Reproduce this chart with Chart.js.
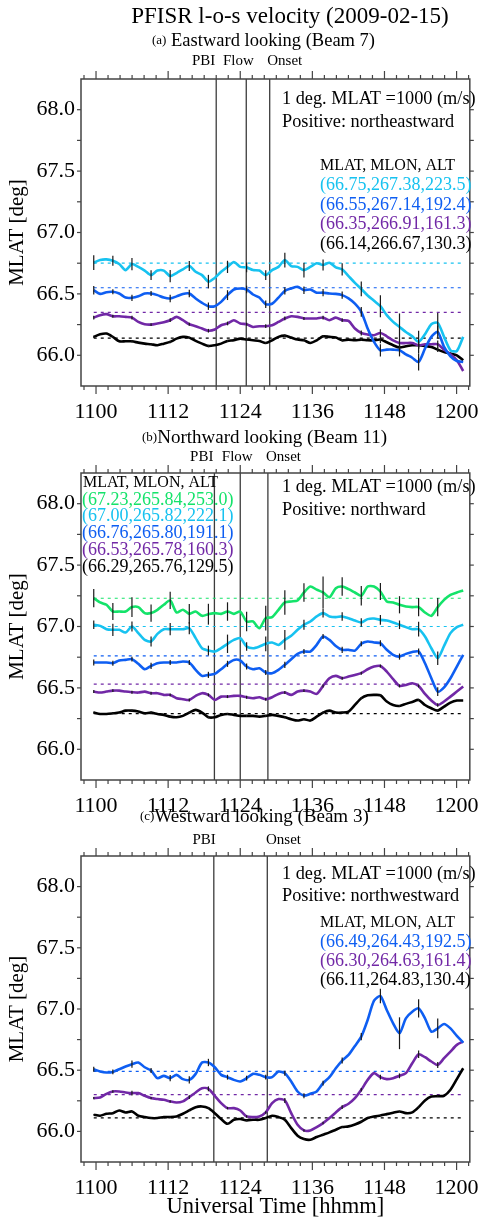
<!DOCTYPE html>
<html>
<head>
<meta charset="utf-8">
<title>PFISR l-o-s velocity (2009-02-15)</title>
<script src="https://cdn.jsdelivr.net/npm/chart.js@4.4.1/dist/chart.umd.min.js"></script>
<style>
  html, body { margin: 0; padding: 0; background: #fff; }
  #page { position: relative; width: 492px; height: 1222px; overflow: hidden; background: #fff; }
  #page canvas { position: absolute; left: 0; top: 0; }
</style>
</head>
<body>
<div id="page">
  <!-- one full-page layer per beam, stacked -->
  <canvas id="beam7" width="492" height="1222"></canvas>
  <canvas id="beam11" width="492" height="1222"></canvas>
  <canvas id="beam3" width="492" height="1222"></canvas>
</div>
<script>
// minutes after 11:00 UT for each integration
const timeMin = [-0.38, 0.68, 1.74, 2.80, 3.86, 4.92, 5.98, 7.04, 8.10, 9.16,
  10.22, 11.28, 12.34, 13.40, 14.46, 15.52, 16.58, 17.64, 18.70, 19.76,
  20.82, 21.88, 22.94, 24.00, 25.06, 26.12, 27.18, 28.24, 29.30, 30.36,
  31.42, 32.48, 33.54, 34.60, 35.66, 36.72, 37.78, 38.84, 39.90, 40.96,
  42.02, 43.08, 44.14, 45.20, 46.26, 47.32, 48.38, 49.44, 50.50, 51.56,
  52.62, 53.68, 54.74, 55.80, 56.86, 57.92, 58.98, 60.04, 61.10];

const xTickValues = [0, 12, 24, 36, 48, 60];
const xTickLabels = ['1100', '1112', '1124', '1136', '1148', '1200'];
const yTickValues = [66.0, 66.5, 67.0, 67.5, 68.0];

// (a) Beam 7, eastward looking
const beam7Mlat = [66.75, 66.55, 66.35, 66.14];
const beam7Gates = ['(66.75,267.38,223.5)', '(66.55,267.14,192.4)', '(66.35,266.91,161.3)', '(66.14,266.67,130.3)'];
const beam7Gate1 = [66.754, 66.776, 66.781, 66.77, 66.743, 66.694, 66.743, 66.72, 66.69, 66.653,
  66.69, 66.69, 66.645, 66.67, 66.70, 66.727, 66.68, 66.653, 66.6, 66.63,
  66.68, 66.72, 66.76, 66.72, 66.716, 66.694, 66.69, 66.653, 66.694, 66.72,
  66.776, 66.727, 66.72, 66.694, 66.72, 66.75, 66.735, 66.754, 66.716, 66.70,
  66.645, 66.59, 66.54, 66.487, 66.444, 66.40, 66.327, 66.272, 66.231, 66.19,
  66.155, 66.109, 66.171, 66.253, 66.264, 66.15, 66.041, 66.035, 66.15];
const beam7Gate2 = [66.53, 66.50, 66.514, 66.517, 66.503, 66.47, 66.468, 66.48, 66.503, 66.503,
  66.49, 66.47, 66.463, 66.48, 66.50, 66.503, 66.463, 66.427, 66.40, 66.40,
  66.435, 66.49, 66.536, 66.544, 66.536, 66.495, 66.47, 66.416, 66.42, 66.47,
  66.525, 66.544, 66.558, 66.53, 66.536, 66.51, 66.51, 66.503, 66.50, 66.49,
  66.463, 66.42, 66.354, 66.218, 66.109, 66.041, 66.046, 66.046, 66.041, 66.008,
  65.98, 65.946, 66.054, 66.15, 66.19, 66.068, 65.992, 65.954, 65.946];
const beam7Gate3 = [66.307, 66.327, 66.335, 66.318, 66.318, 66.313, 66.307, 66.272, 66.253, 66.25,
  66.259, 66.27, 66.286, 66.313, 66.286, 66.253, 66.237, 66.218, 66.2, 66.21,
  66.245, 66.259, 66.286, 66.259, 66.253, 66.231, 66.237, 66.237, 66.245, 66.272,
  66.30, 66.318, 66.313, 66.30, 66.30, 66.30, 66.307, 66.286, 66.307, 66.286,
  66.28, 66.218, 66.182, 66.169, 66.163, 66.182, 66.155, 66.122, 66.10, 66.10,
  66.10, 66.082, 66.09, 66.09, 66.09, 66.046, 66.008, 65.96, 65.872];
const beam7Gate4 = [66.15, 66.171, 66.177, 66.15, 66.114, 66.114, 66.114, 66.103, 66.095, 66.09,
  66.082, 66.095, 66.109, 66.136, 66.15, 66.144, 66.117, 66.095, 66.076, 66.082,
  66.095, 66.117, 66.122, 66.136, 66.128, 66.122, 66.117, 66.10, 66.122, 66.15,
  66.16, 66.144, 66.128, 66.122, 66.10, 66.122, 66.155, 66.15, 66.144, 66.122,
  66.128, 66.122, 66.128, 66.122, 66.122, 66.128, 66.106, 66.082, 66.063, 66.073,
  66.082, 66.082, 66.076, 66.068, 66.046, 66.027, 66.014, 66.0, 65.959];
// error half-widths, one for every third integration
const beam7Err1 = [0.06, 0.04, 0.05, 0.04, 0.05, 0.04, 0.055, 0.05, 0.04, 0.04, 0.06, 0.06, 0.045, 0.05, 0.06, 0.09, 0.11, 0.09, 0.08];
const beam7Err2 = [0.035, 0.02, 0.025, 0.02, 0.03, 0.03, 0.03, 0.04, 0.03, 0.03, 0.03, 0.03, 0.03, 0.03, 0.04, 0.05, 0.05, 0.07, 0.05];
const beam7Err3 = [0.015, 0.012, 0.015, 0.012, 0.015, 0.012, 0.015, 0.015, 0.012, 0.015, 0.015, 0.012, 0.015, 0.015, 0.02, 0.03, 0.03, 0.03, 0.03];
const beam7Err4 = [0.01, 0.008, 0.01, 0.008, 0.01, 0.008, 0.01, 0.008, 0.01, 0.008, 0.01, 0.008, 0.01, 0.01, 0.01, 0.03, 0.02, 0.02, 0.02];
const beam7Events = [20.0, 25.0, 28.9];

// (b) Beam 11, northward looking
const beam11Mlat = [67.23, 67.00, 66.76, 66.53, 66.29];
const beam11Gates = ['(67.23,265.84,253.0)', '(67.00,265.82,222.1)', '(66.76,265.80,191.1)', '(66.53,265.78,160.3)', '(66.29,265.76,129.5)'];
const beam11Gate1 = [67.231, 67.196, 67.177, 67.122, 67.122, 67.122, 67.158, 67.158, 67.109, 67.109,
  67.136, 67.177, 67.212, 67.114, 67.136, 67.103, 67.122, 67.087, 67.10, 67.109,
  67.103, 67.122, 67.103, 67.122, 67.041, 67.041, 66.986, 67.068, 67.076, 67.136,
  67.196, 67.204, 67.212, 67.277, 67.326, 67.30, 67.277, 67.239, 67.312, 67.326,
  67.304, 67.277, 67.25, 67.326, 67.326, 67.285, 67.204, 67.196, 67.177, 67.163,
  67.158, 67.158, 67.114, 67.087, 67.158, 67.217, 67.258, 67.277, 67.293];
const beam11Gate2 = [67.014, 67.005, 66.978, 66.973, 66.973, 66.951, 67.0, 66.946, 66.891, 66.878,
  66.94, 66.978, 66.978, 66.978, 66.978, 66.986, 66.905, 66.823, 66.804, 66.796,
  66.823, 66.859, 66.891, 66.905, 66.837, 66.823, 66.837, 66.859, 66.87, 66.85,
  66.891, 66.924, 66.973, 67.014, 67.041, 67.082, 67.109, 67.082, 67.076, 67.082,
  67.068, 67.049, 67.033, 67.06, 67.065, 67.054, 67.049, 67.033, 67.014, 66.995,
  66.978, 66.978, 66.918, 66.823, 66.742, 66.842, 66.946, 66.995, 67.014];
const beam11Gate3 = [66.707, 66.707, 66.707, 66.701, 66.723, 66.728, 66.734, 66.696, 66.652, 66.679,
  66.701, 66.707, 66.707, 66.707, 66.715, 66.707, 66.647, 66.598, 66.606, 66.614,
  66.652, 66.696, 66.728, 66.723, 66.674, 66.652, 66.66, 66.625, 66.62, 66.647,
  66.688, 66.734, 66.777, 66.796, 66.796, 66.851, 66.918, 66.891, 66.842, 66.81,
  66.81, 66.804, 66.859, 66.878, 66.87, 66.864, 66.81, 66.769, 66.755, 66.777,
  66.793, 66.796, 66.701, 66.579, 66.47, 66.505, 66.579, 66.674, 66.769];
const beam11Gate4 = [66.47, 66.462, 66.47, 66.478, 66.478, 66.47, 66.465, 66.462, 66.47, 66.457,
  66.457, 66.443, 66.443, 66.416, 66.408, 66.402, 66.435, 66.457, 66.443, 66.402,
  66.429, 66.429, 66.435, 66.435, 66.424, 66.416, 66.424, 66.408, 66.424, 66.451,
  66.462, 66.443, 66.47, 66.478, 66.47, 66.451, 66.516, 66.579, 66.598, 66.579,
  66.592, 66.606, 66.62, 66.652, 66.674, 66.679, 66.633, 66.571, 66.516, 66.524,
  66.538, 66.516, 66.451, 66.397, 66.361, 66.389, 66.429, 66.47, 66.511];
const beam11Gate5 = [66.299, 66.288, 66.288, 66.293, 66.299, 66.315, 66.315, 66.307, 66.293, 66.299,
  66.288, 66.28, 66.266, 66.261, 66.272, 66.299, 66.321, 66.299, 66.261, 66.261,
  66.28, 66.288, 66.28, 66.272, 66.272, 66.272, 66.266, 66.272, 66.28, 66.272,
  66.261, 66.245, 66.234, 66.245, 66.234, 66.266, 66.299, 66.315, 66.299, 66.299,
  66.307, 66.361, 66.416, 66.44, 66.443, 66.44, 66.389, 66.361, 66.353, 66.37,
  66.386, 66.402, 66.361, 66.334, 66.315, 66.348, 66.38, 66.397, 66.397];
const beam11Err1 = [0.075, 0.07, 0.08, 0.07, 0.07, 0.08, 0.085, 0.075, 0.08, 0.1, 0.1, 0.075, 0.13, 0.075, 0.08, 0.07, 0.07, 0.075, 0.075];
const beam11Err2 = [0.035, 0.05, 0.04, 0.04, 0.05, 0.05, 0.04, 0.075, 0.035, 0.06, 0.08, 0.04, 0.035, 0.035, 0.035, 0.04, 0.035, 0.06, 0.055];
const beam11Err3 = [0.025, 0.02, 0.02, 0.025, 0.02, 0.02, 0.025, 0.025, 0.025, 0.02, 0.025, 0.02, 0.02, 0.025, 0.02, 0.025, 0.025, 0.025, 0.035];
const beam11Err4 = [0.012, 0.012, 0.012, 0.012, 0.012, 0.012, 0.012, 0.012, 0.012, 0.012, 0.012, 0.012, 0.012, 0.012, 0.012, 0.012, 0.012, 0.012, 0.015];
const beam11Err5 = [0.008, 0.008, 0.008, 0.008, 0.008, 0.008, 0.008, 0.008, 0.008, 0.008, 0.008, 0.008, 0.008, 0.008, 0.008, 0.008, 0.008, 0.008, 0.01];
const beam11Events = [19.7, 24.0, 28.6];

// (c) Beam 3, westward looking
const beam3Mlat = [66.49, 66.30, 66.11];
const beam3Gates = ['(66.49,264.43,192.5)', '(66.30,264.63,161.4)', '(66.11,264.83,130.4)'];
const beam3Gate1 = [66.508, 66.489, 66.481, 66.486, 66.508, 66.53, 66.549, 66.563, 66.524, 66.497,
  66.435, 66.454, 66.435, 66.462, 66.427, 66.421, 66.47, 66.563, 66.563, 66.524,
  66.462, 66.443, 66.421, 66.408, 66.435, 66.47, 66.462, 66.443, 66.443, 66.489,
  66.475, 66.408, 66.326, 66.291, 66.307, 66.326, 66.394, 66.443, 66.516, 66.579,
  66.625, 66.698, 66.774, 66.91, 67.068, 67.106, 66.992, 66.883, 66.802, 66.924,
  66.978, 67.005, 66.924, 66.815, 66.842, 66.878, 66.842, 66.78, 66.726];
const beam3Gate2 = [66.272, 66.277, 66.307, 66.326, 66.326, 66.318, 66.313, 66.313, 66.291, 66.272,
  66.264, 66.258, 66.245, 66.236, 66.245, 66.28, 66.318, 66.353, 66.348, 66.291,
  66.231, 66.19, 66.19, 66.171, 66.122, 66.117, 66.122, 66.155, 66.231, 66.264,
  66.253, 66.149, 66.054, 66.008, 66.008, 66.035, 66.068, 66.109, 66.155, 66.198,
  66.226, 66.272, 66.34, 66.421, 66.476, 66.443, 66.427, 66.435, 66.454, 66.476,
  66.557, 66.63, 66.606, 66.571, 66.543, 66.598, 66.652, 66.707, 66.734];
const beam3Gate3 = [66.136, 66.128, 66.144, 66.149, 66.171, 66.155, 66.163, 66.128, 66.117, 66.109,
  66.109, 66.117, 66.117, 66.122, 66.144, 66.171, 66.198, 66.204, 66.19, 66.149,
  66.101, 66.062, 66.095, 66.101, 66.09, 66.095, 66.095, 66.109, 66.128, 66.117,
  66.095, 66.027, 65.965, 65.938, 65.932, 65.954, 65.973, 65.992, 66.014, 66.035,
  66.041, 66.057, 66.079, 66.109, 66.122, 66.13, 66.141, 66.152, 66.163, 66.149,
  66.155, 66.198, 66.253, 66.285, 66.288, 66.291, 66.34, 66.427, 66.516];
const beam3Err1 = [0.02, 0.02, 0.03, 0.02, 0.025, 0.03, 0.03, 0.02, 0.02, 0.02, 0.02, 0.02, 0.02, 0.025, 0.03, 0.06, 0.13, 0.075, 0.08];
const beam3Err2 = [0.01, 0.01, 0.02, 0.01, 0.01, 0.015, 0.02, 0.01, 0.01, 0.01, 0.02, 0.01, 0.01, 0.015, 0.015, 0.02, 0.02, 0.03, 0.025];
const beam3Err3 = [0.005, 0.005, 0.005, 0.005, 0.005, 0.005, 0.005, 0.005, 0.005, 0.005, 0.005, 0.005, 0.005, 0.005, 0.005, 0.005, 0.005, 0.005, 0.005];
const beam3Events = [19.6, 28.5];

const serif = "'Liberation Serif', 'Times New Roman', serif";
const ERR_STEP = 3;
const cyan = '#17c2f0', blue = '#0e5ef2', purple = '#7128a6', green = '#14e36a', black = '#000000';

function drawLine(ctx, x1, y1, x2, y2) {
  ctx.beginPath();
  ctx.moveTo(x1, y1);
  ctx.lineTo(x2, y2);
  ctx.stroke();
}

function drawText(ctx, t) {
  let x = t.x;
  const parts = t.parts || [[t.text, t.size]];
  ctx.fillStyle = t.color || '#000';
  ctx.textBaseline = 'middle';
  if (t.align === 'center') {
    let w = 0;
    parts.forEach(([s, size]) => { ctx.font = size + 'px ' + serif; w += ctx.measureText(s).width; });
    x -= w / 2;
  }
  ctx.textAlign = 'left';
  parts.forEach(([s, size]) => {
    ctx.font = size + 'px ' + serif;
    ctx.fillText(s, x, t.y);
    x += ctx.measureText(s).width;
  });
}

// frame, outward ticks, event lines, error bars and labels
function decoPlugin(p) {
  return {
    id: 'deco',
    beforeDatasetsDraw(chart) {
      const { ctx, chartArea: a, scales: { x } } = chart;
      ctx.save();
      ctx.strokeStyle = '#3c3c3c';
      ctx.lineWidth = 1.3;
      p.events.forEach(ev => {
        const px = x.getPixelForValue(ev.t);
        drawLine(ctx, px, a.top, px, a.bottom);
      });
      ctx.restore();
    },
    afterDatasetsDraw(chart) {
      const { ctx, scales: { x, y } } = chart;
      ctx.save();
      ctx.strokeStyle = '#1a1a1a';
      ctx.lineWidth = 1.2;
      p.series.forEach(s => {
        s.err.forEach((e, k) => {
          const i = k * ERR_STEP;
          const px = x.getPixelForValue(timeMin[i]);
          drawLine(ctx, px, y.getPixelForValue(s.values[i] - e), px, y.getPixelForValue(s.values[i] + e));
        });
      });
      ctx.restore();
    },
    afterDraw(chart) {
      const { ctx, chartArea: a, scales: { x, y } } = chart;
      ctx.save();
      ctx.strokeStyle = '#444';
      ctx.lineWidth = 1.5;
      ctx.strokeRect(a.left, a.top, a.right - a.left, a.bottom - a.top);
      ctx.lineWidth = 1.2;
      for (let t = -2; t <= 62; t += 2) {
        const px = x.getPixelForValue(t);
        const len = t % 12 === 0 ? 8 : 4;
        drawLine(ctx, px, a.top, px, a.top - len);
        drawLine(ctx, px, a.bottom, px, a.bottom + len);
      }
      for (let v = 66; v <= 68.001; v += 0.25) {
        const py = y.getPixelForValue(v);
        drawLine(ctx, a.left, py, a.left - 4, py);
        drawLine(ctx, a.right, py, a.right + 4, py);
      }
      p.events.forEach(ev => {
        drawText(ctx, { text: ev.name, size: 15, x: x.getPixelForValue(ev.labelT), y: p.eventY, align: 'center' });
      });
      p.texts.forEach(t => drawText(ctx, t));
      ctx.restore();
    }
  };
}

function buildPanel(id, p) {
  const canvas = document.getElementById(id);
  const datasets = [];
  p.series.forEach(s => {
    datasets.push({
      data: timeMin.map((t, i) => ({ x: t, y: s.values[i] })),
      borderColor: s.color, borderWidth: 2.6, pointRadius: 0, tension: 0.25, order: 1
    });
    datasets.push({
      data: [{ x: timeMin[0], y: s.mlat }, { x: timeMin[timeMin.length - 1], y: s.mlat }],
      borderColor: s.color, borderWidth: 1.2, borderDash: [3, 4], pointRadius: 0, order: 2
    });
  });
  return new Chart(canvas, {
    type: 'line',
    data: { datasets },
    options: {
      responsive: false,
      animation: false,
      devicePixelRatio: 1,
      layout: { padding: { top: p.areaTop, right: 12, left: 0, bottom: 0 } },
      plugins: { legend: { display: false }, tooltip: { enabled: false } },
      scales: {
        x: {
          type: 'linear', min: -2.5, max: 62.2,
          grid: { display: false, drawTicks: false },
          border: { display: false },
          afterBuildTicks: s => { s.ticks = xTickValues.map(v => ({ value: v })); },
          afterFit: s => { s.height = canvas.height - p.areaBottom; },
          ticks: {
            autoSkip: false, maxRotation: 0, padding: 13, color: '#000',
            font: { family: serif, size: 22 },
            callback: v => xTickLabels[xTickValues.indexOf(v)]
          },
          title: {
            display: !!p.xTitle, text: p.xTitle || '', color: '#000',
            font: { family: serif, size: 22.5 }, padding: { top: 0, bottom: 1 }
          }
        },
        y: {
          min: 65.75, max: 68.25,
          grid: { display: false, drawTicks: false },
          border: { display: false },
          afterBuildTicks: s => { s.ticks = yTickValues.map(v => ({ value: v })); },
          afterFit: s => { s.width = 81; },
          ticks: {
            padding: 6, color: '#000', font: { family: serif, size: 22 },
            callback: v => v.toFixed(1)
          },
          title: {
            display: true, text: 'MLAT [deg]', color: '#000',
            font: { family: serif, size: 21 }, padding: { top: 5 }
          }
        }
      }
    },
    plugins: [decoPlugin(p)]
  });
}

function gateLines(labels, colors, x, y0, dy) {
  return labels.map((text, i) => ({ text, size: 18, color: colors[i], x, y: y0 + dy * (i + 1) }));
}

buildPanel('beam7', {
  areaTop: 79, areaBottom: 386,
  series: [
    { values: beam7Gate1, err: beam7Err1, mlat: beam7Mlat[0], color: cyan },
    { values: beam7Gate2, err: beam7Err2, mlat: beam7Mlat[1], color: blue },
    { values: beam7Gate3, err: beam7Err3, mlat: beam7Mlat[2], color: purple },
    { values: beam7Gate4, err: beam7Err4, mlat: beam7Mlat[3], color: black }
  ],
  events: [
    { t: beam7Events[0], name: 'PBI', labelT: 17.9 },
    { t: beam7Events[1], name: 'Flow', labelT: 23.7 },
    { t: beam7Events[2], name: 'Onset', labelT: 31.4 }
  ],
  eventY: 61,
  texts: [
    { text: 'PFISR l-o-s velocity (2009-02-15)', size: 23, x: 290, y: 17, align: 'center' },
    { parts: [['(a)', 13], [' Eastward looking (Beam 7)', 18.5]], x: 152, y: 41 },
    { text: '1 deg. MLAT =1000 (m/s)', size: 18.3, x: 282, y: 99 },
    { text: 'Positive: northeastward', size: 18.3, x: 282, y: 122 },
    { text: 'MLAT, MLON, ALT', size: 16, x: 320, y: 166 }
  ].concat(gateLines(beam7Gates, [cyan, blue, purple, black], 320, 166, 19.5))
});

buildPanel('beam11', {
  areaTop: 473, areaBottom: 780,
  series: [
    { values: beam11Gate1, err: beam11Err1, mlat: beam11Mlat[0], color: green },
    { values: beam11Gate2, err: beam11Err2, mlat: beam11Mlat[1], color: cyan },
    { values: beam11Gate3, err: beam11Err3, mlat: beam11Mlat[2], color: blue },
    { values: beam11Gate4, err: beam11Err4, mlat: beam11Mlat[3], color: purple },
    { values: beam11Gate5, err: beam11Err5, mlat: beam11Mlat[4], color: black }
  ],
  events: [
    { t: beam11Events[0], name: 'PBI', labelT: 17.6 },
    { t: beam11Events[1], name: 'Flow', labelT: 23.5 },
    { t: beam11Events[2], name: 'Onset', labelT: 31.2 }
  ],
  eventY: 457,
  texts: [
    { parts: [['(b)', 13], ['Northward looking (Beam 11)', 19]], x: 142, y: 438 },
    { text: '1 deg. MLAT =1000 (m/s)', size: 18.3, x: 282, y: 487 },
    { text: 'Positive: northward', size: 18.3, x: 282, y: 510 },
    { text: 'MLAT, MLON, ALT', size: 16, x: 83, y: 483 }
  ].concat(gateLines(beam11Gates, [green, cyan, blue, purple, black], 82, 483, 16.8))
});

buildPanel('beam3', {
  areaTop: 856, areaBottom: 1162,
  xTitle: 'Universal Time [hhmm]',
  series: [
    { values: beam3Gate1, err: beam3Err1, mlat: beam3Mlat[0], color: blue },
    { values: beam3Gate2, err: beam3Err2, mlat: beam3Mlat[1], color: purple },
    { values: beam3Gate3, err: beam3Err3, mlat: beam3Mlat[2], color: black }
  ],
  events: [
    { t: beam3Events[0], name: 'PBI', labelT: 18.0 },
    { t: beam3Events[1], name: 'Onset', labelT: 31.2 }
  ],
  eventY: 840,
  texts: [
    { parts: [['(c)', 13], ['Westward looking (Beam 3)', 19]], x: 140, y: 817 },
    { text: '1 deg. MLAT =1000 (m/s)', size: 18.3, x: 282, y: 874 },
    { text: 'Positive: northwestward', size: 18.3, x: 282, y: 896 },
    { text: 'MLAT, MLON, ALT', size: 16, x: 320, y: 923 }
  ].concat(gateLines(beam3Gates, [blue, purple, black], 320, 923, 19))
});
</script>
</body>
</html>
